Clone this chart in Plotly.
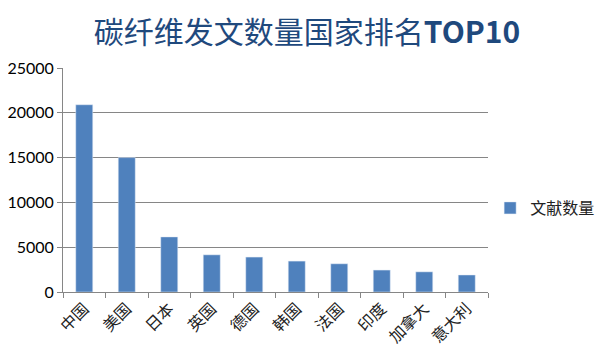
import plotly.graph_objects as go

countries = ["中国", "美国", "日本", "英国", "德国", "韩国", "法国", "印度", "加拿大", "意大利"]
counts = [20900, 15000, 6150, 4150, 3900, 3450, 3150, 2450, 2250, 1900]
series_name = "文献数量"
title_text = "碳纤维发文数量国家排名<b>TOP10</b>"

fig = go.Figure(go.Bar(x=countries, y=counts, name=series_name, marker_color="#4F81BD",
                       showlegend=True))

fig.update_layout(
    width=598, height=355,
    margin=dict(l=55, r=118, t=60, b=71, autoexpand=False),
    paper_bgcolor="white", plot_bgcolor="white",
    font=dict(family="Lato, Noto Sans CJK SC", size=15, color="#000000"),
    title=dict(text=title_text, x=0.5, xref="container", xanchor="center", y=0.932, yanchor="middle",
               font=dict(family="Noto Sans CJK SC, Lato", size=30, color="#1F497D")),
    bargap=0.6,
    showlegend=True,
    legend=dict(x=1.005, y=0.375, xanchor="left", yanchor="middle",
                font=dict(family="Noto Sans CJK SC", size=16, color="#222222"), itemwidth=30),
    xaxis=dict(showline=True, linecolor="#868686", linewidth=1, ticks="outside", automargin=False,
               tickson="boundaries", ticklen=5, tickcolor="#868686", tickangle=-45,
               tickfont=dict(family="Noto Sans CJK SC", size=16, color="#222222")),
    yaxis=dict(range=[0, 25000], dtick=5000, showline=True, linecolor="#868686", linewidth=1,
               ticks="outside", ticklen=5, tickcolor="#868686", showgrid=True, automargin=False,
               gridcolor="#868686", gridwidth=1, tickformat="d",
               tickfont=dict(size=16, color="#000000"), zeroline=False),
)

fig.write_html("out.html")
